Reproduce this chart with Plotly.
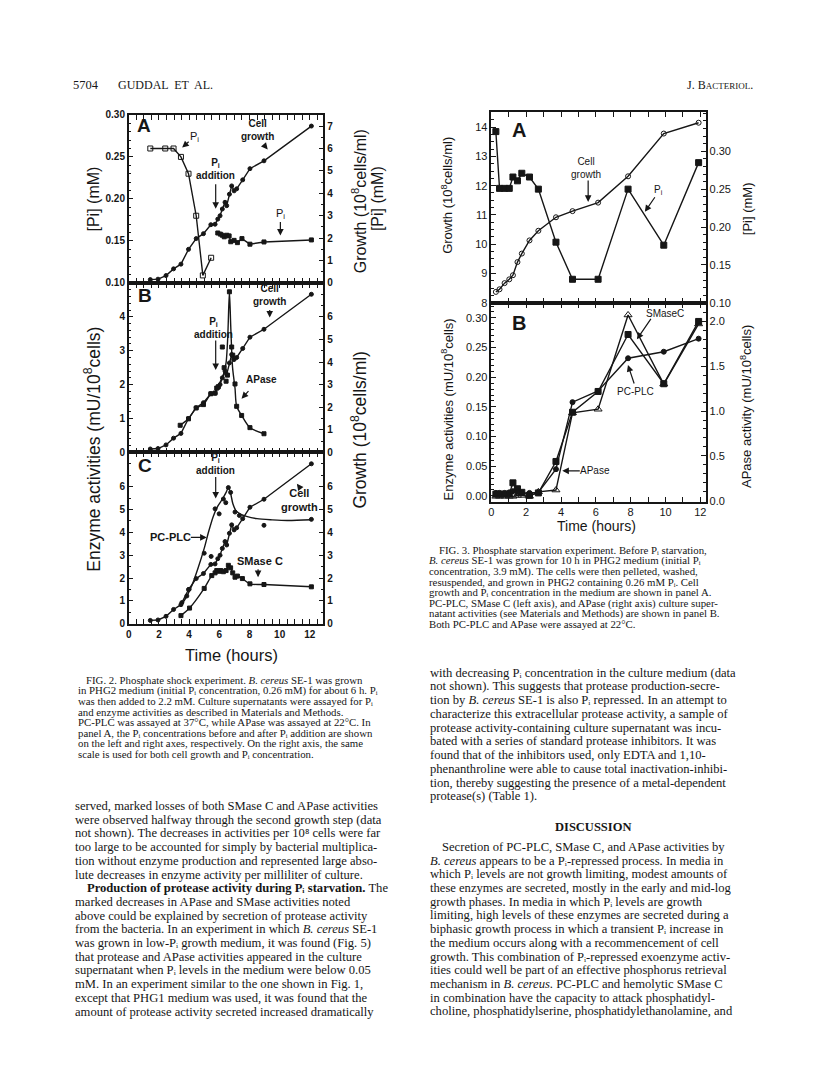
import plotly.graph_objects as go

W, H = 816, 1080

# ---------------- DATA: Fig. 2 ----------------
growth_t = [1.43, 1.94, 2.47, 2.97, 3.46, 3.96, 4.47, 4.95, 5.44, 5.72, 5.9, 6.05, 6.2, 6.38, 6.49, 6.67, 6.82, 6.98, 7.15, 7.55, 8.03, 8.96, 12.1]
growth_v = [0.15, 0.17, 0.33, 0.63, 0.84, 1.5, 1.98, 2.2, 2.6, 2.62, 2.85, 3.0, 3.3, 3.6, 3.45, 3.96, 4.33, 4.11, 4.2, 4.6, 5.1, 5.45, 7.0]

pi_before_t = [1.43, 2.42, 2.97, 3.46, 3.96, 4.47, 4.91, 5.46]
pi_before_v = [0.26, 0.26, 0.26, 0.25, 0.23, 0.18, 0.109, 0.13]

pi_after_t = [5.9, 6.07, 6.2, 6.33, 6.5, 6.65, 6.76, 6.98, 7.2, 7.5, 8.03, 8.96, 12.1]
pi_after_v = [2.23, 2.18, 2.13, 2.06, 2.13, 2.1, 1.84, 1.9, 1.8, 1.98, 1.73, 1.83, 1.92]

apase2_t = [3.41, 3.96, 4.47, 4.95, 5.44, 5.72, 5.83, 5.94, 6.2, 6.32, 6.45, 6.54, 6.67, 6.82, 6.89, 7.04, 7.15, 7.48, 8.03, 8.96]
apase2_v = [0.80, 0.99, 1.31, 1.41, 1.73, 1.75, 1.90, 1.94, 3.11, 2.50, 2.10, 2.28, 4.74, 3.11, 2.87, 2.02, 1.36, 1.09, 0.73, 0.55]
apase2_fit_t = [3.41, 3.96, 4.47, 4.95, 5.44, 5.72, 5.94, 6.1, 6.3, 6.45, 6.56, 6.67, 6.76, 6.88, 7.04, 7.15, 7.48, 8.03, 8.96]
apase2_fit_v = [0.80, 0.99, 1.31, 1.41, 1.73, 1.80, 1.97, 2.12, 2.33, 2.65, 3.4, 4.74, 3.7, 2.5, 1.9, 1.36, 1.09, 0.73, 0.55]

pcplc2_t = [3.52, 3.85, 4.0, 5.0, 5.46, 5.72, 5.99, 6.27, 6.43, 6.6, 6.75, 7.04, 7.33, 8.96, 12.1]
pcplc2_v = [0.93, 1.22, 1.51, 3.09, 2.95, 5.03, 4.81, 5.46, 5.3, 5.96, 5.75, 4.89, 4.74, 4.31, 4.57]
pcplc2_fit_t = [3.4, 3.8, 4.2, 4.6, 5.0, 5.3, 5.6, 5.9, 6.2, 6.45, 6.6, 6.75, 6.9, 7.1, 7.4, 7.8, 8.5, 9.5, 10.5, 12.1]
pcplc2_fit_v = [0.75, 1.15, 1.7, 2.45, 3.3, 4.05, 4.7, 5.15, 5.45, 5.75, 5.96, 5.7, 5.25, 4.95, 4.8, 4.7, 4.6, 4.55, 4.52, 4.55]

smase2_t = [3.46, 4.03, 5.0, 5.5, 5.72, 5.83, 5.99, 6.1, 6.27, 6.45, 6.6, 6.75, 6.89, 7.04, 7.2, 7.53, 8.03, 8.96, 12.1]
smase2_v = [0.36, 0.69, 1.55, 2.11, 2.23, 2.33, 2.3, 2.33, 2.28, 2.33, 2.56, 2.45, 2.23, 2.04, 2.09, 1.98, 1.75, 1.72, 1.62]

# ---------------- DATA: Fig. 3 ----------------
t3 = [0.26, 0.47, 0.76, 1.03, 1.24, 1.5, 1.75, 2.19, 2.7, 3.71, 4.66, 6.13, 7.85, 9.9, 11.9]
growth3 = [8.37, 8.46, 8.67, 8.8, 8.94, 9.39, 9.68, 10.13, 10.46, 10.92, 11.13, 11.42, 12.32, 13.78, 14.15]
pi3 = [0.326, 0.251, 0.251, 0.251, 0.266, 0.261, 0.271, 0.266, 0.25, 0.18, 0.131, 0.131, 0.25, 0.176, 0.285]
smase3 = [0.003, 0.003, 0.003, 0.003, 0.022, 0.012, 0.006, 0.001, 0.005, 0.058, 0.141, 0.176, 0.272, 0.189, 0.294]
pcplc3 = [0.005, 0.005, 0.005, 0.006, 0.008, 0.006, 0.005, 0.005, 0.006, 0.045, 0.158, 0.177, 0.232, 0.243, 0.265]
apase3 = [0.05, 0.05, 0.05, 0.05, 0.05, 0.06, 0.06, 0.05, 0.1, 0.12, 0.98, 1.02, 2.07, 1.3, 1.97]

INK = "#161616"
PI = "P\u1d62"   # P with subscript i


def fx(px):
    return px / W


def fy(py):
    return 1 - py / H


fig = go.Figure()


def add(x, y, xa, ya, symbol, size, mode="lines+markers", shape="linear", width=1.4, fill=True):
    fig.add_trace(go.Scatter(
        x=x, y=y, xaxis=xa, yaxis=ya, mode=mode,
        line=dict(color=INK, width=width, shape=shape, smoothing=0.8),
        marker=dict(symbol=symbol, size=size, color=INK if fill else "white",
                    line=dict(color=INK, width=1)),
        showlegend=False, hoverinfo="skip", cliponaxis=False))


# Fig 2 A
add(pi_before_t, pi_before_v, "x", "y", "square-open", 5)
add(growth_t, growth_v, "x", "y2", "circle", 4)
add(pi_after_t, pi_after_v, "x", "y2", "square", 4)
# Fig 2 B
add(growth_t, growth_v, "x2", "y4", "circle", 4)
add(apase2_fit_t, apase2_fit_v, "x2", "y3", "square", 4, mode="lines", shape="spline")
add(apase2_t, apase2_v, "x2", "y3", "square", 4, mode="markers")
# Fig 2 C
add(growth_t, growth_v, "x3", "y6", "circle", 4)
add(pcplc2_fit_t, pcplc2_fit_v, "x3", "y5", "circle", 4, mode="lines", shape="spline")
add(pcplc2_t, pcplc2_v, "x3", "y5", "circle", 4, mode="markers")
add(smase2_t, smase2_v, "x3", "y5", "square", 4, shape="spline")
# Fig 3 A
add(t3, growth3, "x4", "y7", "circle-open", 5)
add(t3, pi3, "x4", "y8", "square", 6)
# Fig 3 B
add(t3, smase3, "x5", "y9", "square", 6)
add(t3, pcplc3, "x5", "y9", "circle", 5)
add(t3, apase3, "x5", "y10", "triangle-up-open", 7)

# ---------------- AXES ----------------
TF2 = dict(family="Liberation Sans", size=10, color=INK, weight="bold")
TF3 = dict(family="Liberation Sans", size=11, color=INK)


def xax(dom, rng, show, dtick, mdtick, tf):
    return dict(domain=[fx(dom[0]), fx(dom[1])], range=rng, showgrid=False, zeroline=False,
                showline=True, linecolor=INK, linewidth=1.5, mirror="allticks",
                ticks="inside", ticklen=5, tickwidth=1.2, tickcolor=INK, dtick=dtick, tick0=0,
                showticklabels=show, tickfont=tf,
                minor=dict(ticks="inside", ticklen=3, dtick=mdtick, tickcolor=INK, tickwidth=1))


def yax(dom, rng, tickvals, ticktext, mdtick, tf, anchor, side="left", overlay=None):
    d = dict(domain=[fy(dom[1]), fy(dom[0])], range=rng, showgrid=False, zeroline=False,
             showline=True, linecolor=INK, linewidth=1.5,
             ticks="inside", ticklen=5, tickwidth=1.2, tickcolor=INK,
             tickmode="array", tickvals=tickvals, ticktext=ticktext, tickfont=tf,
             anchor=anchor, side=side,
             minor=dict(ticks="inside", ticklen=3, dtick=mdtick, tick0=0, tickcolor=INK, tickwidth=1))
    if overlay:
        d["overlaying"] = overlay
    return d


X2 = (118.3, 314.0)
A2 = (102.0, 272.0)
B2 = (272.0, 443.3)
C2 = (443.3, 616.7)
X3 = (482.7, 698.0)
A3 = (99.0, 292.0)
B3 = (292.0, 493.0)

fig.update_layout(
    xaxis=xax(X2, [0, 12.9], False, 2, 0.5, TF2) | dict(anchor="y"),
    xaxis2=xax(X2, [0, 12.9], False, 2, 0.5, TF2) | dict(anchor="y3"),
    xaxis3=xax(X2, [0, 12.9], True, 2, 0.5, TF2) | dict(anchor="y5"),
    xaxis4=xax(X3, [0, 12.3], False, 2, 1, TF3) | dict(anchor="y7"),
    xaxis5=xax(X3, [0, 12.3], True, 2, 1, TF3) | dict(anchor="y9"),
    yaxis=yax(A2, [0.10, 0.30], [0.10, 0.15, 0.20, 0.25, 0.30], ["0.10", "0.15", "0.20", "0.25", "0.30"], 0.01, TF2, "x"),
    yaxis2=yax(A2, [0, 7.5], list(range(8)), [str(i) for i in range(8)], 0.5, TF2, "x", "right", "y"),
    yaxis3=yax(B2, [0, 5], list(range(5)), [str(i) for i in range(5)], 0.2, TF2, "x2"),
    yaxis4=yax(B2, [0, 7.5], list(range(7)), [str(i) for i in range(7)], 0.5, TF2, "x2", "right", "y3"),
    yaxis5=yax(C2, [0, 7.5], list(range(7)), [str(i) for i in range(7)], 0.5, TF2, "x3"),
    yaxis6=yax(C2, [0, 7.5], list(range(7)), [str(i) for i in range(7)], 0.5, TF2, "x3", "right", "y5"),
    yaxis7=yax(A3, [8, 14.52], list(range(8, 15)), [str(i) for i in range(8, 15)], 0.25, TF3, "x4"),
    yaxis8=yax(A3, [0.10, 0.352], [0.10, 0.15, 0.20, 0.25, 0.30], ["0.10", "0.15", "0.20", "0.25", "0.30"], 0.01, TF3, "x4", "right", "y7"),
    yaxis9=yax(B3, [-0.0095, 0.3255], [0, 0.05, 0.10, 0.15, 0.20, 0.25, 0.30], ["0.00", "0.05", "0.10", "0.15", "0.20", "0.25", "0.30"], 0.01, TF3, "x5"),
    yaxis10=yax(B3, [-0.008, 2.206], [0, 0.5, 1.0, 1.5, 2.0], ["0.0", "0.5", "1.0", "1.5", "2.0"], 0.1, TF3, "x5", "right", "y9"),
)

ann = []


def text(px, py, s, size=11, family="Liberation Sans", angle=0, xanchor="center", weight="normal"):
    ann.append(dict(x=fx(px), y=fy(py), xref="paper", yref="paper", text=s, showarrow=False,
                    font=dict(family=family, size=size, color=INK, weight=weight),
                    textangle=angle, xanchor=xanchor, yanchor="middle"))


def arrow(tail, tip):
    ann.append(dict(x=fx(tip[0]), y=fy(tip[1]), xref="paper", yref="paper", text="",
                    showarrow=True, ax=tail[0] - tip[0], ay=tail[1] - tip[1],
                    arrowhead=2, arrowsize=1.1, arrowwidth=1.2, arrowcolor=INK, standoff=0))


# Fig 2 panel labels
lab = dict(size=10, weight="bold")
text(134, 113, "A", size=19, weight="bold")
text(184, 124, "P<sub>i</sub>", size=11)
arrow((180, 128), (172, 135))
text(248, 117, "Cell<br>growth", **lab)
arrow((253, 131), (258, 137))
text(205.7, 157, "P<sub>i</sub><br>addition", **lab)
arrow((205.7, 171), (205.7, 197))
text(270.7, 202, "P<sub>i</sub>", size=11)
arrow((270.7, 209), (270.7, 224))

text(135, 285, "B", size=19, weight="bold")
text(260, 284, "Cell<br>growth", **lab)
arrow((260, 298), (260, 307))
text(203.3, 318, "P<sub>i</sub><br>addition", **lab)
arrow((205.7, 329), (205.7, 360))
text(251.7, 370, "APase", **lab)
arrow((240, 380), (231.7, 389))

text(135, 457, "C", size=19, weight="bold")
text(205.7, 455, "P<sub>i</sub><br>addition", **lab)
arrow((205.7, 467), (205.7, 490))
text(290, 491, "Cell<br>growth", size=11, weight="bold")
arrow((291.7, 481), (287.3, 475))
text(160, 529.3, "PC-PLC", size=11, weight="bold")
arrow((179.3, 529.3), (196.7, 529.3))
text(250, 553.3, "SMase C", size=11, weight="bold")
arrow((248.3, 560), (248.3, 569.5))

# Fig 2 axis titles
text(83, 187, "[Pi] (mM)", size=16, angle=-90)
text(350, 189, "Growth (10<sup>8</sup>cells/ml)", size=16, angle=-90)
text(369, 187, "[Pi] (mM)", size=16, angle=-90)
text(82, 440, "Enzyme activities (mU/10<sup>8</sup>cells)", size=17.5, angle=-90)
text(350, 420, "Growth (10<sup>8</sup>cells/ml)", size=17.5, angle=-90)
text(222, 648, "Time (hours)", size=16.5)

# Fig 3 labels
text(510, 117, "A", size=20, weight="bold")
text(578, 156, "Cell<br>growth", size=10)
arrow((580, 167), (580, 190))
text(651, 178, "P<sub>i</sub>", size=10)
arrow((648, 184), (637, 200))
text(510, 312, "B", size=20, weight="bold")
text(657, 303, "SMaseC", size=10)
arrow((644, 307), (629, 329))
text(628, 382, "PC-PLC", size=10)
arrow((626.7, 375), (620, 355))
text(587, 462, "APase", size=10)
arrow((573, 462), (554, 462))

text(438, 183, "Growth (10<sup>8</sup>cells/ml)", size=13, angle=-90)
text(740, 197, "[Pi] (mM)", size=13, angle=-90)
text(438, 400, "Enzyme activities (mU/10<sup>8</sup>cells)", size=13, angle=-90)
text(738, 397, "APase activity (mU/10<sup>8</sup>cells)", size=13, angle=-90)
text(588, 518, "Time (hours)", size=14)

# Page text
SER = "Liberation Serif"
text(60, 72, "5704", size=12.5, family=SER, xanchor="left")
text(106, 72, "GUDDAL  ET  AL.", size=12, family=SER, xanchor="left")
text(677, 72, "J. B<span style='font-size:9px'>ACTERIOL</span>.", size=12, family=SER, xanchor="left")

cap2 = [
    "FIG. 2. Phosphate shock experiment. <i>B. cereus</i> SE-1 was grown",
    f"in PHG2 medium (initial {PI} concentration, 0.26 mM) for about 6 h. {PI}",
    f"was then added to 2.2 mM. Culture supernatants were assayed for {PI}",
    "and enzyme activities as described in Materials and Methods.",
    "PC-PLC was assayed at 37°C, while APase was assayed at 22°C. In",
    f"panel A, the {PI} concentrations before and after {PI} addition are shown",
    "on the left and right axes, respectively. On the right axis, the same",
    f"scale is used for both cell growth and {PI} concentration.",
]
for i, s in enumerate(cap2):
    text(73 if i == 0 else 65, 673.3 + i * 10.7, s, size=10.8, family=SER, xanchor="left")

body_l = [
    "served, marked losses of both SMase C and APase activities",
    "were observed halfway through the second growth step (data",
    "not shown). The decreases in activities per 10\u2078 cells were far",
    "too large to be accounted for simply by bacterial multiplica-",
    "tion without enzyme production and represented large abso-",
    "lute decreases in enzyme activity per milliliter of culture.",
    f"<b>Production of protease activity during {PI} starvation.</b> The",
    "marked decreases in APase and SMase activities noted",
    "above could be explained by secretion of protease activity",
    "from the bacteria. In an experiment in which <i>B. cereus</i> SE-1",
    f"was grown in low-{PI} growth medium, it was found (Fig. 5)",
    "that protease and APase activities appeared in the culture",
    f"supernatant when {PI} levels in the medium were below 0.05",
    "mM. In an experiment similar to the one shown in Fig. 1,",
    "except that PHG1 medium was used, it was found that the",
    "amount of protease activity secreted increased dramatically",
]
for i, s in enumerate(body_l):
    text(74 if i == 6 else 62, 801 + i * 13.85, s, size=12.6, family=SER, xanchor="left")

cap3 = [
    f"FIG. 3. Phosphate starvation experiment. Before {PI} starvation,",
    f"<i>B. cereus</i> SE-1 was grown for 10 h in PHG2 medium (initial {PI}",
    "concentration, 3.9 mM). The cells were then pelleted, washed,",
    f"resuspended, and grown in PHG2 containing 0.26 mM {PI}. Cell",
    f"growth and {PI} concentration in the medium are shown in panel A.",
    "PC-PLC, SMase C (left axis), and APase (right axis) culture super-",
    "natant activities (see Materials and Methods) are shown in panel B.",
    "Both PC-PLC and APase were assayed at 22°C.",
]
for i, s in enumerate(cap3):
    text(428 if i == 0 else 418, 541.7 + i * 10.8, s, size=10.8, family=SER, xanchor="left")

body_r1 = [
    f"with decreasing {PI} concentration in the culture medium (data",
    "not shown). This suggests that protease production-secre-",
    f"tion by <i>B. cereus</i> SE-1 is also {PI} repressed. In an attempt to",
    "characterize this extracellular protease activity, a sample of",
    "protease activity-containing culture supernatant was incu-",
    "bated with a series of standard protease inhibitors. It was",
    "found that of the inhibitors used, only EDTA and 1,10-",
    "phenanthroline were able to cause total inactivation-inhibi-",
    "tion, thereby suggesting the presence of a metal-dependent",
    "protease(s) (Table 1).",
]
for i, s in enumerate(body_r1):
    text(419, 666 + i * 13.9, s, size=12.6, family=SER, xanchor="left")

text(585, 821.7, "<b>DISCUSSION</b>", size=12.5, family=SER)

body_r2 = [
    "Secretion of PC-PLC, SMase C, and APase activities by",
    f"<i>B. cereus</i> appears to be a {PI}-repressed process. In media in",
    f"which {PI} levels are not growth limiting, modest amounts of",
    "these enzymes are secreted, mostly in the early and mid-log",
    f"growth phases. In media in which {PI} levels are growth",
    "limiting, high levels of these enzymes are secreted during a",
    f"biphasic growth process in which a transient {PI} increase in",
    "the medium occurs along with a recommencement of cell",
    f"growth. This combination of {PI}-repressed exoenzyme activ-",
    "ities could well be part of an effective phosphorus retrieval",
    "mechanism in <i>B. cereus</i>. PC-PLC and hemolytic SMase C",
    "in combination have the capacity to attack phosphatidyl-",
    "choline, phosphatidylserine, phosphatidylethanolamine, and",
]
for i, s in enumerate(body_r2):
    text(431 if i == 0 else 419, 842.3 + i * 13.85, s, size=12.6, family=SER, xanchor="left")

fig.update_layout(
    width=W, height=H, margin=dict(l=0, r=0, t=0, b=0),
    paper_bgcolor="white", plot_bgcolor="rgba(0,0,0,0)",
    annotations=ann, showlegend=False,
)

fig.write_html("out.html")
